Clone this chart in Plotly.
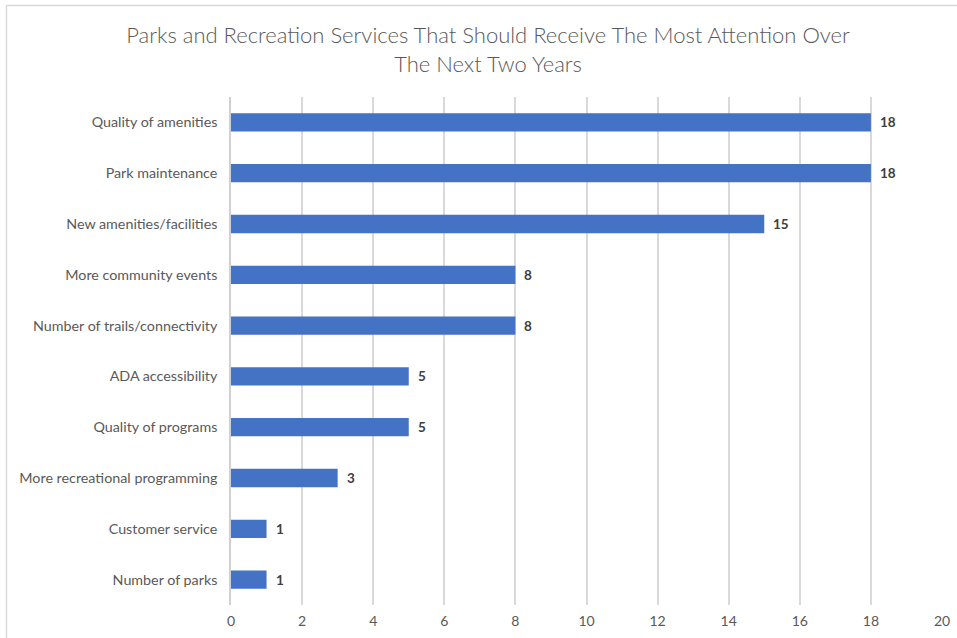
import plotly.graph_objects as go

categories = ["Quality of amenities", "Park maintenance", "New amenities/facilities",
              "More community events", "Number of trails/connectivity", "ADA accessibility",
              "Quality of programs", "More recreational programming", "Customer service",
              "Number of parks"]
values = [18, 18, 15, 8, 8, 5, 5, 3, 1, 1]
x_ticks = [0, 2, 4, 6, 8, 10, 12, 14, 16, 18, 20]

W, H = 957, 638
L, R, T, B = 231, 15, 97, 33
pw, ph = W - L - R, H - T - B
FONT = "Lato, Open Sans, sans-serif"

def px(x):
    return (x - L) / pw

def py(y):
    return (H - B - y) / ph

fig = go.Figure(go.Bar(
    y=categories[::-1], x=values[::-1], orientation="h",
    marker=dict(color="#4472C4", line=dict(width=0)),
    width=0.36,
))

annotations = [dict(x=v, y=c, xref="x", yref="y", text=str(v), showarrow=False,
                    xanchor="left", yanchor="middle", xshift=7,
                    font=dict(family=FONT, size=13.5, color="#404040", weight="bold"))
               for c, v in zip(categories, values)]

fig.update_layout(
    width=W, height=H,
    margin=dict(l=L, r=R, t=T, b=B, pad=0),
    paper_bgcolor="white", plot_bgcolor="white",
    showlegend=False,
    title=dict(text="Parks and Recreation Services That Should Receive The Most Attention Over<br>The Next Two Years",
               x=488 / W, xanchor="center", y=1 - 43 / H, yanchor="middle", xref="container",
               font=dict(family=FONT, size=22, color="#595959", weight=300)),
    xaxis=dict(range=[0, 20], tickvals=x_ticks, showgrid=True, gridcolor="#D9D9D9", gridwidth=1.5,
               zeroline=False, showline=False, ticks="", automargin=False, ticklabelstandoff=6,
               tickfont=dict(family=FONT, size=14, color="#595959")),
    yaxis=dict(showgrid=False, zeroline=False, showline=True, linecolor="#D0D0D0", linewidth=1.5,
               ticks="", ticklabelstandoff=9, automargin=False,
               tickfont=dict(family=FONT, size=14.3, color="#595959")),
    annotations=annotations,
    shapes=[dict(type="rect", xref="paper", yref="paper",
                 x0=px(6.5), x1=px(990), y0=py(5.5), y1=py(700),
                 line=dict(color="#D9D9D9", width=1.5), fillcolor="rgba(0,0,0,0)", layer="below")],
)

fig.write_html("out.html", config={"displayModeBar": False},
               post_script="document.body.style.margin='0';")
